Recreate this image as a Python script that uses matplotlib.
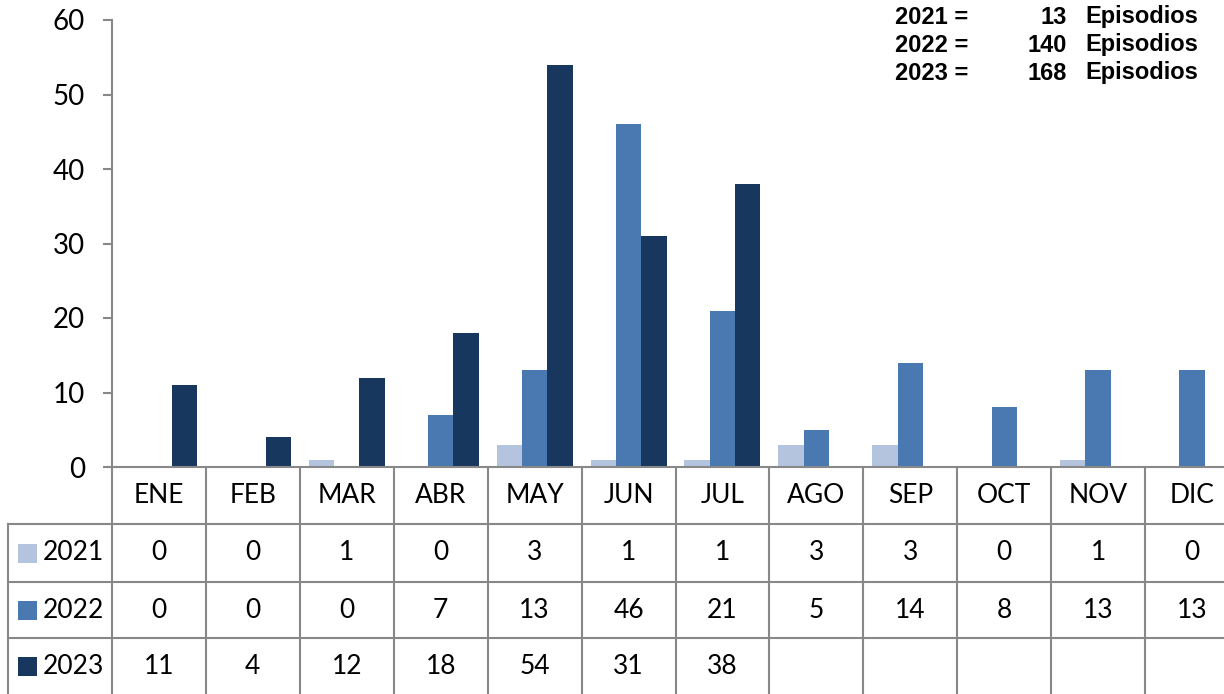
import matplotlib
matplotlib.use('Agg')
import matplotlib.pyplot as plt
from matplotlib import font_manager
from matplotlib.patches import Rectangle
import numpy as np

# %% Data
months = ['ENE', 'FEB', 'MAR', 'ABR', 'MAY', 'JUN', 'JUL', 'AGO', 'SEP', 'OCT', 'NOV', 'DIC']
years = ['2021', '2022', '2023']
ep_2021 = [0, 0, 1, 0, 3, 1, 1, 3, 3, 0, 1, 0]
ep_2022 = [0, 0, 0, 7, 13, 46, 21, 5, 14, 8, 13, 13]
ep_2023 = [11, 4, 12, 18, 54, 31, 38]
totals = [13, 140, 168]

colors = ['#B4C4DF', '#4A79B1', '#17375E']
GRID = '#888888'

# %% Fonts
installed = {f.name for f in font_manager.fontManager.ttflist}
if 'Liberation Sans Narrow' in installed:
    BODY, BODY_SIZE, TICK_SIZE = 'Liberation Sans Narrow', 21, 22
    TITLE, TITLE_SIZE = 'Liberation Sans Narrow', 18
else:
    BODY, BODY_SIZE, TICK_SIZE = 'Lato', 19, 20
    TITLE, TITLE_SIZE = 'Liberation Sans', 17

# %% Figure
W, H = 1224, 694
fig = plt.figure(figsize=(W / 100, H / 100), dpi=100)
ax_left, ax_right, ax_top, ax_bot = 112, 1239, 20, 467
ax = fig.add_axes([ax_left / W, 1 - ax_bot / H, (ax_right - ax_left) / W, (ax_bot - ax_top) / H])

x = np.arange(len(months))
bw = 0.27
series = [ep_2021, ep_2022, ep_2023]
for i, (vals, c) in enumerate(zip(series, colors)):
    xs = x[:len(vals)] + (i - 1) * bw
    ax.bar(xs, vals, width=bw, color=c, edgecolor='none', zorder=2)

ax.set_xlim(-0.5, 11.5)
ax.set_ylim(0, 60)
ax.set_yticks(range(0, 61, 10))
ax.set_xticks([])
for s in ['top', 'right']:
    ax.spines[s].set_visible(False)
for s in ['left', 'bottom']:
    ax.spines[s].set_color(GRID)
    ax.spines[s].set_linewidth(1.5)
ax.tick_params(axis='y', colors=GRID, length=6.5, width=1.5, pad=13,
               labelcolor='black', labelsize=TICK_SIZE)
for lab in ax.get_yticklabels():
    lab.set_family(BODY)

# %% Data table under the chart
tr = ax.get_xaxis_transform()
ph = ax_bot - ax_top
def fy(py):
    return (ax_bot - py) / ph

rows_y = [524, 582, 638, 694]
label_left = -0.5 - (ax_left - 8) / ((ax_right - ax_left) / 12)
kw = dict(color=GRID, lw=1.5, transform=tr, clip_on=False)

# vertical lines between months
for b in np.arange(-0.5, 12.0, 1.0):
    ax.plot([b, b], [0, fy(H + 5)], **kw)
# horizontal row lines
for ry in rows_y[:-1]:
    ax.plot([label_left, 11.5], [fy(ry), fy(ry)], **kw)
ax.plot([label_left, label_left], [fy(rows_y[0]), fy(H + 5)], **kw)

# header
for xi, m in zip(x, months):
    ax.text(xi, fy((ax_bot + rows_y[0]) / 2), m, transform=tr, ha='center', va='center',
            fontsize=BODY_SIZE, family=BODY)

# rows
for r, (yr, vals, c) in enumerate(zip(years, series, colors)):
    cy = fy((rows_y[r] + rows_y[r + 1]) / 2)
    for xi, v in zip(x, vals):
        ax.text(xi, cy, str(v), transform=tr, ha='center', va='center',
                fontsize=BODY_SIZE, family=BODY)
    sq = 19
    fig.patches.append(Rectangle((18 / W, (H - (rows_y[r] + rows_y[r + 1]) / 2 - sq / 2) / H),
                                 sq / W, sq / H, transform=fig.transFigure,
                                 facecolor=c, edgecolor='none'))
    fig.text(43 / W, 1 - (rows_y[r] + rows_y[r + 1]) / 2 / H, yr, ha='left', va='center',
             fontsize=BODY_SIZE, family=BODY)

# %% Totals annotation
for k, (yr, t) in enumerate(zip(years, totals)):
    yy = 1 - (17 + 28 * k) / H
    fig.text(895 / W, yy, f'{yr} =', ha='left', va='center', fontsize=TITLE_SIZE,
             fontweight='bold', family=TITLE)
    fig.text(1067 / W, yy, str(t), ha='right', va='center', fontsize=TITLE_SIZE,
             fontweight='bold', family=TITLE)
    fig.text(1085 / W, yy, 'Episodios', ha='left', va='center', fontsize=TITLE_SIZE,
             fontweight='bold', family=TITLE)

fig.savefig('out.png', dpi=100)
